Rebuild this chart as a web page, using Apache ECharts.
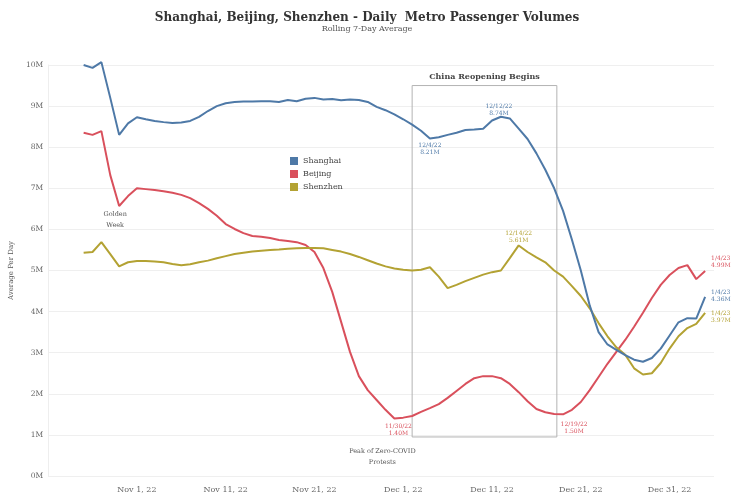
<!DOCTYPE html>
<html><head><meta charset="utf-8">
<script src="https://cdn.jsdelivr.net/npm/echarts@6/dist/echarts.min.js"></script>
<style>html,body{margin:0;padding:0;background:#fff}#c{width:734px;height:497px}</style>
</head><body><div id="c"></div>
<script>
// ---- data (millions of passengers, rolling 7-day average) ----
const startDate = '2022-10-26';   // first daily value
const axisOrigin = '2022-10-22';  // x-axis origin (day 0)
const seriesNames = ['Shanghai', 'Beijing', 'Shenzhen'];
const shanghai = [10.0,9.93,10.07,9.2,8.3,8.58,8.73,8.68,8.64,8.61,8.59,8.6,8.64,8.74,8.88,9.0,9.07,9.1,9.11,9.11,
  9.12,9.12,9.1,9.15,9.12,9.18,9.2,9.16,9.17,9.14,9.16,9.15,9.1,8.98,8.9,8.8,8.68,8.55,8.4,8.21,
  8.24,8.3,8.35,8.42,8.43,8.45,8.65,8.74,8.7,8.45,8.2,7.85,7.45,7.0,6.45,5.75,5.0,4.15,3.5,3.2,
  3.07,2.94,2.83,2.78,2.87,3.1,3.42,3.74,3.84,3.83,4.36];
const beijing = [8.35,8.3,8.39,7.32,6.57,6.81,7.0,6.98,6.96,6.93,6.89,6.84,6.76,6.64,6.5,6.33,6.13,6.01,5.91,5.84,
  5.82,5.79,5.74,5.72,5.69,5.62,5.45,5.06,4.48,3.75,3.02,2.43,2.09,1.85,1.61,1.40,1.42,1.46,1.56,1.65,
  1.75,1.9,2.07,2.24,2.38,2.43,2.43,2.38,2.24,2.04,1.82,1.63,1.55,1.51,1.50,1.61,1.8,2.09,2.41,2.73,
  3.02,3.31,3.63,3.97,4.33,4.65,4.89,5.06,5.13,4.79,4.99];
const shenzhen = [5.43,5.45,5.69,5.4,5.1,5.2,5.23,5.23,5.22,5.2,5.16,5.13,5.15,5.2,5.24,5.3,5.35,5.4,5.43,5.46,
  5.48,5.5,5.51,5.53,5.54,5.55,5.55,5.54,5.5,5.46,5.4,5.33,5.25,5.17,5.1,5.05,5.02,5.0,5.02,5.08,
  4.85,4.57,4.65,4.74,4.82,4.9,4.96,5.0,5.3,5.61,5.45,5.32,5.2,5.0,4.85,4.62,4.38,4.08,3.72,3.4,
  3.13,2.95,2.62,2.47,2.5,2.75,3.1,3.4,3.6,3.7,3.97];
const xTickLabels = ['Nov 1, 22','Nov 11, 22','Nov 21, 22','Dec 1, 22','Dec 11, 22','Dec 21, 22','Dec 31, 22'];
const xTickDays = [10,20,30,40,50,60,70];
const yTickLabels = ['0M','1M','2M','3M','4M','5M','6M','7M','8M','9M','10M'];
const pointNotes = [ // highlighted points
  {series:'Shanghai', date:'2022-12-04', pos:'bottom'},
  {series:'Shanghai', date:'2022-12-12', pos:'top'},
  {series:'Shenzhen', date:'2022-12-14', pos:'top'},
  {series:'Beijing', date:'2022-11-30', pos:'bottom'},
  {series:'Beijing', date:'2022-12-19', pos:'bottom'}
];
const reopenFrom = '2022-12-02', reopenTo = '2022-12-18';
const reopenText = 'China Reopening Begins';
const goldenWeek = {date:'2022-10-30', text:'Golden\nWeek'};
const protests = {date:'2022-11-30', text:'Peak of Zero-COVID\nProtests'};

// ---- helpers ----
const DAY = 86400000;
const parse = s => { const [y,m,d] = s.split('-').map(Number); return Date.UTC(y, m-1, d); };
const dayOf = s => Math.round((parse(s) - parse(axisOrigin)) / DAY);
const startDay = dayOf(startDate);
const dates = shanghai.map((_, i) => new Date(parse(startDate) + i * DAY));
const fmtDate = dt => `${dt.getUTCMonth()+1}/${dt.getUTCDate()}/${String(dt.getUTCFullYear()).slice(2)}`;
const colors = {Shanghai:'#4e79a7', Beijing:'#d9505c', Shenzhen:'#b3a233'};
const values = {Shanghai: shanghai, Beijing: beijing, Shenzhen: shenzhen};
const serif = '"DejaVu Serif", Georgia, serif';
const noteText = (i, v) => fmtDate(dates[i]) + '\n' + v.toFixed(2) + 'M';

const noteOffsets = {'2022-11-30': [4, 1], '2022-12-19': [11, 4], '2022-12-12': [-2, 3], '2022-12-14': [0, 2]};
const endOffsets = {Shanghai: [0, -1], Beijing: [0, -9], Shenzhen: [0, 4]};

const series = seriesNames.map(name => {
  const vals = values[name];
  const data = vals.map((v, i) => [startDay + i, v]);
  const mp = [];
  pointNotes.filter(n => n.series === name).forEach(n => {
    const i = dayOf(n.date) - startDay;
    mp.push({coord: [startDay + i, vals[i]], label: {
      show: true, position: n.pos, distance: 3, formatter: noteText(i, vals[i]),
      fontFamily: serif, fontSize: 6, lineHeight: 7, color: colors[name],
      offset: noteOffsets[n.date] || [0, 0]}});
  });
  if (name === 'Beijing') {
    const gi = dayOf(goldenWeek.date) - startDay, pi = dayOf(protests.date) - startDay;
    const lab = {show: true, position: 'bottom', fontFamily: serif, fontSize: 6.5, lineHeight: 11, color: '#555'};
    mp.push({coord: [startDay + gi, vals[gi]], label: Object.assign({}, lab, {formatter: goldenWeek.text, distance: 4, offset: [-4, -1]})});
    mp.push({coord: [startDay + pi, vals[pi]], label: Object.assign({}, lab, {formatter: protests.text, distance: 27, offset: [-12, 0]})});
  }
  const s = {
    name, type: 'line', data, symbol: 'none', showSymbol: false, clip: false,
    lineStyle: {width: 2, color: colors[name]}, itemStyle: {color: colors[name]},
    emphasis: {disabled: true}, z: name === 'Shanghai' ? 3 : 2,
    endLabel: {show: true, fontFamily: serif, fontSize: 6, lineHeight: 7, color: colors[name], distance: 6,
      offset: endOffsets[name],
      formatter: p => noteText(p.dataIndex, p.value[1])},
    markPoint: {silent: true, symbol: 'circle', symbolSize: 0, animation: false, data: mp}
  };
  if (name === 'Shanghai') {
    s.markArea = {
      silent: true,
      itemStyle: {color: 'rgba(0,0,0,0)', borderColor: '#b3b3b3', borderWidth: 1},
      label: {show: true, position: 'top', distance: 4, formatter: reopenText, fontFamily: serif,
        fontWeight: 'bold', fontSize: 8, color: '#444'},
      data: [[{xAxis: dayOf(reopenFrom), yAxis: 9.5}, {xAxis: dayOf(reopenTo) + 0.3, yAxis: 0.95}]]
    };
  }
  return s;
});

const chart = echarts.init(document.getElementById('c'), null, {renderer: 'canvas'});
chart.setOption({
  animation: false,
  backgroundColor: '#fff',
  title: {
    text: 'Shanghai, Beijing, Shenzhen - Daily  Metro Passenger Volumes',
    subtext: 'Rolling 7-Day Average',
    left: 'center', top: 7, itemGap: 1,
    textStyle: {fontFamily: serif, fontWeight: 'bold', fontSize: 12, color: '#333'},
    subtextStyle: {fontFamily: serif, fontSize: 8, color: '#555'}
  },
  legend: {
    data: seriesNames, orient: 'vertical', left: 285, top: 152, itemGap: 5,
    itemWidth: 8, itemHeight: 8, icon: 'rect',
    textStyle: {fontFamily: serif, fontSize: 8, color: '#444'}
  },
  grid: {left: 43, right: 20, top: 65, bottom: 21, containLabel: false},
  xAxis: {
    type: 'value', min: 0, max: 75, interval: 10,
    axisLine: {show: false}, axisTick: {show: false}, splitLine: {show: false},
    axisLabel: {fontFamily: serif, fontSize: 8, color: '#666', margin: 10,
      showMinLabel: false, showMaxLabel: false,
      formatter: v => { const k = xTickDays.indexOf(v); return k >= 0 ? xTickLabels[k] : ''; }}
  },
  yAxis: {
    type: 'value', min: 0, max: 10, interval: 1,
    name: 'Average Per Day', nameLocation: 'middle', nameGap: 33,
    nameTextStyle: {fontFamily: serif, fontSize: 7, color: '#555'},
    axisLine: {show: true, lineStyle: {color: '#eeeeee'}}, axisTick: {show: false},
    splitLine: {lineStyle: {color: '#efefef'}},
    axisLabel: {fontFamily: serif, fontSize: 7.5, color: '#666', margin: 5,
      formatter: v => yTickLabels[Math.round(v)]}
  },
  series
});
</script></body></html>
